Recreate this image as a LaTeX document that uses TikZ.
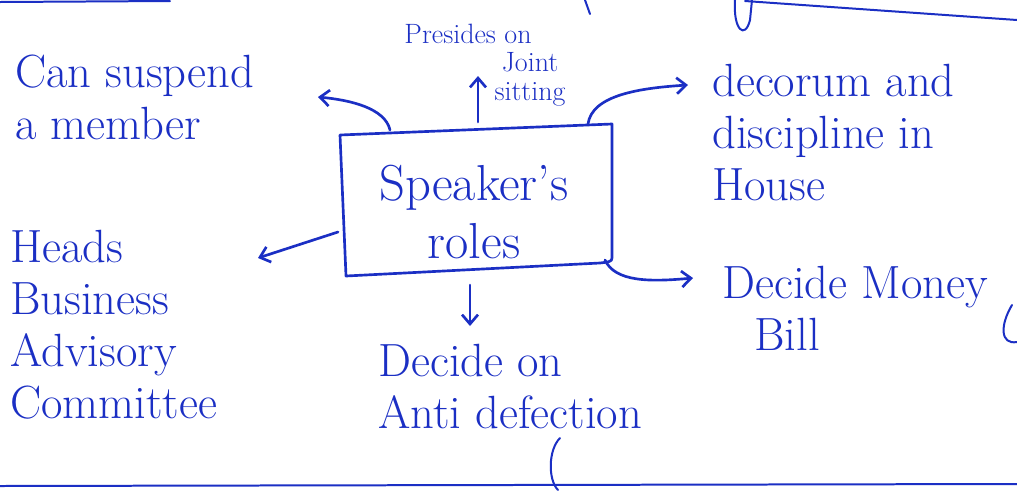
\documentclass[tikz,border=0pt]{standalone}
\usetikzlibrary{arrows.meta}
\definecolor{ink}{HTML}{1B2FC4}
\begin{document}
\begin{tikzpicture}[x=0.0264cm,y=-0.0264cm,
  every node/.style={text=ink},
  pen/.style={draw=ink,line width=2pt,line cap=round,line join=round},
  arr/.style={pen,-{Straight Barb[length=7pt,width=12pt,line width=2pt]}},
  lbl/.style={font=\fontsize{35}{39}\selectfont,align=left,anchor=north west,inner sep=0pt},
  small/.style={font=\fontsize{21}{22}\selectfont,align=center,inner sep=0pt}]
\useasboundingbox (0,0) rectangle (1017,490);
\fill[white] (0,0) rectangle (1017,490);

% page rules and stray strokes from neighbouring lines of writing
\draw[pen,line width=1.5pt] (0,2) -- (170,1);
\draw[pen,line width=1.5pt] (745,1) -- (1017,20);
\draw[pen,line width=1.5pt] (585,0) -- (590,14);
\draw[pen,line width=1.5pt] (735,0) .. controls (733,30) and (745,40) .. (750,20) -- (752,0);
\draw[pen,line width=1.5pt] (0,486) -- (1017,484);
\draw[pen,line width=1.5pt] (560,438) .. controls (548,450) and (548,480) .. (558,490);
\draw[pen,line width=1.5pt] (1012,305) .. controls (1000,325) and (1000,345) .. (1017,342);

% central box
\draw[pen] (340,135) -- (612,124) -- (612,258) .. controls (612,262) and (608,262) .. (600,263) -- (346,276) -- cycle;
\node (box) [font=\fontsize{38}{44}\selectfont,align=center,inner sep=0pt] at (474,212) {Speaker's\\roles};
\coordinate (boxT) at (478,122);
\coordinate (boxB) at (470,285);
\coordinate (boxL) at (338,232);
\coordinate (boxTL) at (390,130);
\coordinate (boxTR) at (588,124);
\coordinate (boxBR) at (605,260);

% labels
\node (joint) [small] at (468,34) {Presides on};
\node (joint2) [small,anchor=north] at (530,52) {Joint\\sitting};
\node (suspend) [lbl] at (15,55) {Can suspend\\a member};
\node (decorum) [lbl] at (712,64) {decorum and\\discipline in\\House};
\node (heads) [lbl] at (10,230) {Heads\\Business\\Advisory\\Committee};
\node (money) [lbl] at (722,266) {Decide Money\\\hspace*{24pt}Bill};
\node (anti) [lbl] at (378,344) {Decide on\\Anti defection};

% connectors
\draw[arr] (boxT) -- (478,76);
\draw[arr] (boxTL) .. controls (385,108) and (350,100) .. (318,97);
\draw[arr] (boxTR) .. controls (592,95) and (640,88) .. (688,85);
\draw[arr] (boxL) -- (258,258);
\draw[arr] (boxBR) .. controls (615,282) and (650,282) .. (693,278);
\draw[arr] (boxB) -- (470,326);
\end{tikzpicture}
\end{document}
